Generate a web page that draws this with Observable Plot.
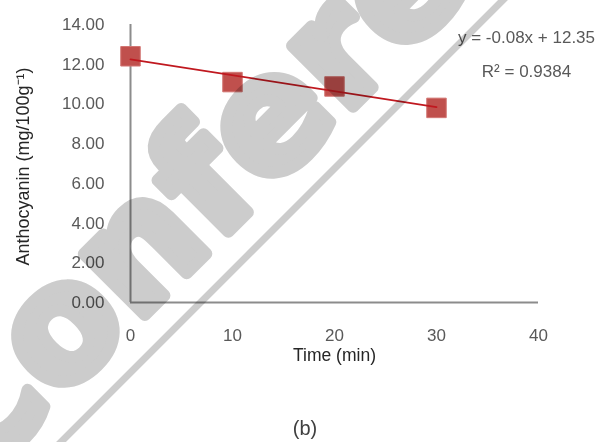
<!DOCTYPE html>
<html>
<head>
<meta charset="utf-8">
<script src="https://cdn.jsdelivr.net/npm/d3@7"></script>
<script src="https://cdn.jsdelivr.net/npm/@observablehq/plot@0.6"></script>
<style>
  html, body { margin: 0; padding: 0; background: #fff; }
  #wrap { position: relative; width: 600px; height: 442px; overflow: hidden; background: #fff; isolation: isolate; }
  #caption { position: absolute; left: 0; width: 610px; top: 417px; text-align: center;
             font-family: "Liberation Sans", sans-serif; font-size: 20px; color: #404040; }
  #wm { position: absolute; left: 0; top: 0; mix-blend-mode: multiply; pointer-events: none; }
</style>
</head>
<body>
<div id="wrap"></div>
<script>
// Data
const times = [0, 10, 20, 30];
const anthocyanin = [12.40, 11.10, 10.88, 9.80];
const xTicks = [0, 10, 20, 30, 40];
const yTicks = [0, 2, 4, 6, 8, 10, 12, 14];
const xTitle = "Time (min)";
const yTitle = "Anthocyanin (mg/100g\u207B\u00B9)";
const equationLines = ["y = -0.08x + 12.35", "R\u00B2 = 0.9384"];
const captionText = "(b)";
const watermarkText = "Conference";

const rows = times.map((t, i) => ({time: t, value: anthocyanin[i]}));

const chart = Plot.plot({
  width: 600,
  height: 372,
  marginLeft: 130,
  marginRight: 62,
  marginTop: 24,
  marginBottom: 70,
  style: {fontFamily: "Liberation Sans, sans-serif", fontSize: "17px", color: "#595959", background: "transparent", overflow: "visible"},
  x: {domain: [0, 40]},
  y: {domain: [0, 14]},
  marks: [
    Plot.axisX({ticks: xTicks, tickSize: 0, tickPadding: 26, label: null, fill: "#595959"}),
    Plot.axisY({ticks: yTicks, tickSize: 0, tickPadding: 26, tickFormat: d3.format(".2f"), label: null, fill: "#595959"}),
    Plot.ruleY([0], {stroke: "#8c8c8c", strokeWidth: 2}),
    Plot.ruleX([0], {stroke: "#8c8c8c", strokeWidth: 2}),
    Plot.dot(rows, {x: "time", y: "value", symbol: "square", r: 11, fill: "#c0504d", stroke: "#d27572", strokeWidth: 1}),
    Plot.linearRegressionY(rows, {x: "time", y: "value", stroke: "#c0181f", strokeWidth: 1.8, ci: 0}),
    Plot.text([equationLines.join("\n")], {frameAnchor: "top-right", dx: -12, dy: -6, lineAnchor: "top", lineHeight: 2, textAnchor: "middle", fill: "#595959", fontSize: 17}),
    Plot.text([xTitle], {frameAnchor: "bottom", dy: 53, lineAnchor: "middle", fill: "#262626", fontSize: 17.5}),
    Plot.text([yTitle], {frameAnchor: "left", dx: -107, dy: 3, rotate: -90, lineAnchor: "middle", textAnchor: "middle", fill: "#262626", fontSize: 18})
  ]
});
const wrap = document.getElementById("wrap");
chart.style.position = "absolute";
chart.style.left = "0px";
chart.style.top = "0px";
wrap.appendChild(chart);

const cap = document.createElement("div");
cap.id = "caption";
cap.textContent = captionText;
wrap.appendChild(cap);

// watermark overlay
const ns = "http://www.w3.org/2000/svg";
const wm = document.createElementNS(ns, "svg");
wm.setAttribute("id", "wm");
wm.setAttribute("width", 600);
wm.setAttribute("height", 442);
const stripe = document.createElementNS(ns, "line");
stripe.setAttribute("x1", 40); stripe.setAttribute("y1", 463);
stripe.setAttribute("x2", 523); stripe.setAttribute("y2", -20);
stripe.setAttribute("stroke", "#cccccc");
stripe.setAttribute("stroke-width", 7);
wm.appendChild(stripe);
const t = document.createElementNS(ns, "text");
t.setAttribute("x", -26); t.setAttribute("y", 486);
t.setAttribute("transform", "rotate(-45 -26 486)");
t.setAttribute("font-family", "DejaVu Sans");
t.setAttribute("font-weight", "bold");
t.setAttribute("font-size", 158);
t.setAttribute("letter-spacing", 2);
t.setAttribute("fill", "#cccccc");
t.setAttribute("stroke", "#cccccc");
t.setAttribute("stroke-width", 12);
t.setAttribute("stroke-linejoin", "round");
t.textContent = watermarkText;
wm.appendChild(t);
wrap.appendChild(wm);
</script>
</body>
</html>
